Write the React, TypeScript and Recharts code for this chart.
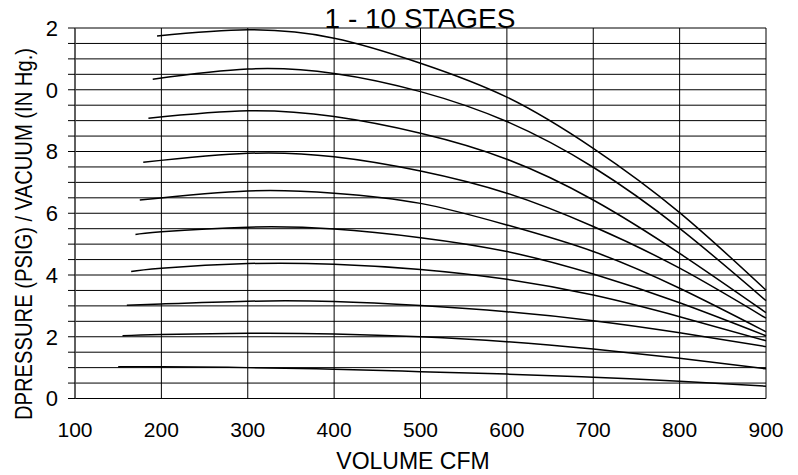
import { LineChart, Line, XAxis, YAxis, CartesianGrid } from "recharts";

// volumes (CFM) where every curve is read, after its own start point
const startVolumes = [150, 155, 160, 165, 170, 175, 179, 185, 190, 195];
const volumes = [200, 300, 400, 500, 600, 700, 800, 900];

// pressure per stage: first value at the start volume, then one per volumes[]
const stage1 = [1.03, 1.03, 1.0, 0.95, 0.87, 0.79, 0.69, 0.56, 0.4];
const stage2 = [2.03, 2.07, 2.11, 2.09, 2.0, 1.84, 1.6, 1.3, 0.96];
const stage3 = [3.02, 3.06, 3.15, 3.14, 3.01, 2.81, 2.52, 2.13, 1.68];
const stage4 = [4.11, 4.22, 4.37, 4.35, 4.18, 3.86, 3.35, 2.65, 1.87];
const stage5 = [5.31, 5.4, 5.55, 5.49, 5.21, 4.76, 4.03, 3.1, 2.03];
const stage6 = [6.43, 6.51, 6.72, 6.65, 6.32, 5.62, 4.76, 3.57, 2.16];
const stage7 = [7.65, 7.75, 7.94, 7.83, 7.37, 6.65, 5.57, 4.22, 2.6];
const stage8 = [9.08, 9.13, 9.32, 9.13, 8.59, 7.75, 6.43, 4.7, 2.78];
const stage9 = [10.34, 10.42, 10.67, 10.53, 9.94, 8.97, 7.49, 5.51, 3.17];
const stage10 = [11.74, 11.78, 11.94, 11.67, 10.86, 9.76, 8.1, 6.02, 3.51];

const stages = [stage1, stage2, stage3, stage4, stage5, stage6, stage7, stage8, stage9, stage10];

const xTicks = [100, 200, 300, 400, 500, 600, 700, 800, 900];
const yTicks = [0, 0.5, 1, 1.5, 2, 2.5, 3, 3.5, 4, 4.5, 5, 5.5, 6, 6.5, 7, 7.5, 8, 8.5, 9, 9.5, 10, 10.5, 11, 11.5, 12];

const FONT = '"Liberation Sans", Arial, sans-serif';

function curveData(values: number[], start: number) {
    const pts = [{ x: start, y: values[0] }];
    volumes.forEach((v, i) => {
        // skip a read point sitting too close to the start (keeps the spline even)
        if (v - start >= 30) pts.push({ x: v, y: values[i + 1] });
    });
    return pts;
}

export default function App() {
    return (
        <div style={{ width: 782, height: 467, fontFamily: FONT }}>
            <LineChart width={782} height={467} margin={{ top: 20, right: 24, bottom: 0, left: 0 }}>
                <CartesianGrid stroke="#000" strokeWidth={1} />
                <XAxis
                    type="number"
                    dataKey="x"
                    domain={[100, 900]}
                    ticks={xTicks}
                    height={76.5}
                    tickSize={0}
                    tickMargin={23.5}
                    axisLine={{ stroke: "#000" }}
                    tick={{ fill: "#000", fontSize: 21, fontFamily: FONT }}
                    allowDuplicatedCategory={false}
                />
                <YAxis
                    type="number"
                    domain={[0, 12]}
                    ticks={yTicks}
                    width={67}
                    tickSize={7}
                    tickMargin={10}
                    interval={0}
                    axisLine={{ stroke: "#555", strokeWidth: 1.5 }}
                    tickLine={{ stroke: "#000" }}
                    tick={{ fill: "#000", fontSize: 22, fontFamily: FONT }}
                    tickFormatter={(v: number) => (v % 2 === 0 ? String(v % 10) : "")}
                />
                {stages.map((s, i) => (
                    <Line
                        key={i}
                        data={curveData(s, startVolumes[i])}
                        dataKey="y"
                        type="natural"
                        stroke="#000"
                        strokeWidth={1.5}
                        dot={false}
                        activeDot={false}
                        isAnimationActive={false}
                    />
                ))}
                <text x={412} y={20} textAnchor="middle" fontSize={28} fontFamily={FONT} fill="#000">
                    1 - 10 STAGES
                </text>
                <text x={405} y={461} textAnchor="middle" fontSize={23} fontFamily={FONT} fill="#000">
                    VOLUME CFM
                </text>
                <text
                    x={15}
                    y={226}
                    transform="rotate(-90 15 226)"
                    textAnchor="middle"
                    dominantBaseline="central"
                    fontSize={24}
                    fontFamily={FONT}
                    fill="#000"
                    textLength={372}
                    lengthAdjust="spacingAndGlyphs"
                >
                    DPRESSURE (PSIG) / VACUUM (IN Hg.)
                </text>
            </LineChart>
        </div>
    );
}
